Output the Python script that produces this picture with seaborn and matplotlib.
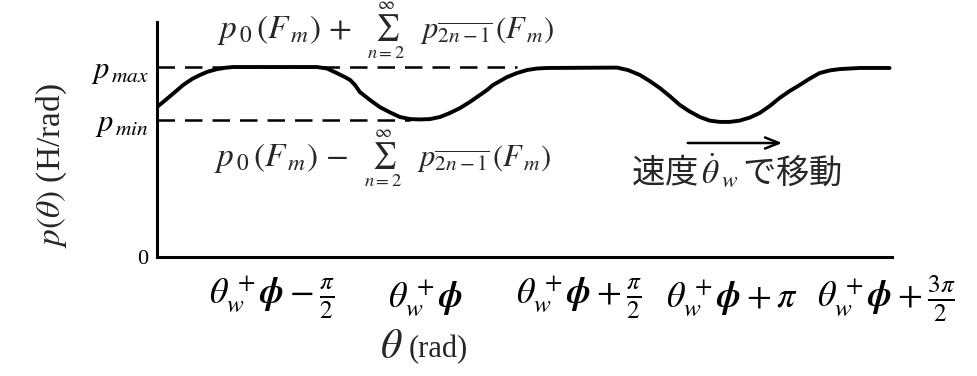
import numpy as np
import pandas as pd
import matplotlib
matplotlib.use("Agg")
import matplotlib.pyplot as plt
import seaborn as sns

# Permeance profile sampled along the rotor angle (x in multiples of pi,
# measured from theta_w + phi)
theta_pi = [-0.874, -0.831, -0.789, -0.760, -0.734, -0.708, -0.678, -0.652,
            -0.626, -0.353, -0.320, -0.288, -0.262, -0.245, -0.229, -0.213,
            -0.180, -0.148, -0.115, -0.083, -0.050, -0.018, 0.015, 0.048,
            0.080, 0.113, 0.145, 0.178, 0.201, 0.220, 0.243, 0.266,
            0.298, 0.331, 0.363, 0.396, 0.624, 0.660, 0.699, 0.731,
            0.764, 0.796, 0.829, 0.861, 0.894, 0.926, 0.959, 0.991,
            1.024, 1.057, 1.089, 1.122, 1.154, 1.187, 1.219, 1.252,
            1.284, 1.317, 1.349, 1.414, 1.512]
p_theta = [0.789, 0.847, 0.905, 0.937, 0.958, 0.976, 0.989, 0.996,
           1.000, 1.000, 0.992, 0.968, 0.947, 0.932, 0.905, 0.868,
           0.826, 0.789, 0.761, 0.737, 0.726, 0.724, 0.726, 0.737,
           0.758, 0.784, 0.816, 0.853, 0.879, 0.905, 0.926, 0.947,
           0.968, 0.984, 0.992, 0.995, 0.997, 0.984, 0.958, 0.926,
           0.889, 0.847, 0.800, 0.766, 0.737, 0.718, 0.711, 0.711,
           0.718, 0.734, 0.758, 0.795, 0.837, 0.874, 0.905, 0.939,
           0.968, 0.982, 0.989, 0.995, 0.995]

p_max = 1.0
p_min = 0.72

tick_pos = [-0.5, 0.0, 0.5, 1.0, 1.5]
tick_labels = [
    r"$\theta_{w}^{\,+}\boldsymbol{\phi}-\frac{\pi}{2}$",
    r"$\theta_{w}^{\,+}\boldsymbol{\phi}$",
    r"$\theta_{w}^{\,+}\boldsymbol{\phi}+\frac{\pi}{2}$",
    r"$\theta_{w}^{\,+}\boldsymbol{\phi}+\pi$",
    r"$\theta_{w}^{\,+}\boldsymbol{\phi}+\frac{3\pi}{2}$",
]
y_ticks = [0.0, p_min, p_max]
y_tick_labels = ["0", r"$p_{\,min}$", r"$p_{\,max}$"]

head_upper = r"$p_{\,0}\,(F_{\,m})\,+$"
head_lower = r"$p_{\,0}\,(F_{\,m})\,-$"
sum_part = r"$\sum_{n=2}^{\infty}$"
tail = r"$p_{\overline{2n-1}}\,(F_{\,m})$"
motion_label = r"速度$\,\dot{\theta}_{\,w}\,$で移動"

sns.set_style("white")
plt.rcParams["mathtext.fontset"] = "stix"
plt.rcParams["font.family"] = ["Liberation Serif", "DejaVu Serif"]

W, H = 977, 376
fig = plt.figure(figsize=(W / 100, H / 100), dpi=100)
ax = fig.add_axes([0.1607, 0.3165, 0.7523, 0.625])


def px(x, y):
    """Figure-fraction position from a pixel offset measured from top-left."""
    return x / W, 1 - y / H


df = pd.DataFrame({"theta": theta_pi, "p": p_theta})
sns.lineplot(data=df, x="theta", y="p", ax=ax, color="black", linewidth=2.8,
             sort=False, estimator=None, solid_joinstyle="round",
             solid_capstyle="round")

# reference levels
ax.hlines(p_max, theta_pi[0], 0.30, colors="black", linestyles=(0, (7, 4)),
          linewidth=1.8)
ax.hlines(p_min, theta_pi[0], -0.05, colors="black", linestyles=(0, (7, 4)),
          linewidth=1.8)

ax.set_xlim(theta_pi[0], 1.52)
ax.set_ylim(0, 1.237)

for s in ["top", "right"]:
    ax.spines[s].set_visible(False)
for s in ["left", "bottom"]:
    ax.spines[s].set_linewidth(2.2)
    ax.spines[s].set_color("black")

ax.set_xticks(tick_pos)
ax.set_xticklabels(tick_labels, fontsize=26)
ax.tick_params(axis="x", direction="in", length=20, width=2, pad=30,
               colors="black")
for lab in ax.get_xticklabels():
    lab.set_verticalalignment("center")
ax.set_yticks(y_ticks)
ax.set_yticklabels(y_tick_labels, fontsize=22)
ax.tick_params(axis="y", length=0, pad=6, colors="black")
ax.get_yticklabels()[0].set_fontsize(16)
ax.set_xlabel("")
ax.set_ylabel("")

fig.text(0.053, 0.56, r"$p(\theta)$ (H/rad)", rotation=90, ha="center",
         va="center", fontsize=24)
fig.text(*px(403, 348), r"$\theta$", ha="right", va="center", fontsize=30)
fig.text(*px(409, 350), "(rad)", ha="left", va="center", fontsize=22)

# upper and lower bounds written as p0 +/- sum of harmonics
for y0, x0, head in [(30, 0, head_upper), (158, -3, head_lower)]:
    fig.text(*px(352 + x0, y0), head, ha="right", va="center", fontsize=24)
    fig.text(*px(386 + x0, y0), sum_part, ha="center", va="center",
             fontsize=19)
    fig.text(*px(420 + x0, y0), tail, ha="left", va="center", fontsize=22)

fig.text(*px(737, 172), motion_label, ha="center", va="center", fontsize=24,
         family=["Noto Sans CJK JP", "DejaVu Sans"])
fig.add_artist(matplotlib.patches.FancyArrowPatch(
    px(685, 143), px(785, 143), transform=fig.transFigure,
    arrowstyle="->,head_length=10,head_width=4", color="black",
    linewidth=1.8))

fig.savefig("out.png", dpi=100)
